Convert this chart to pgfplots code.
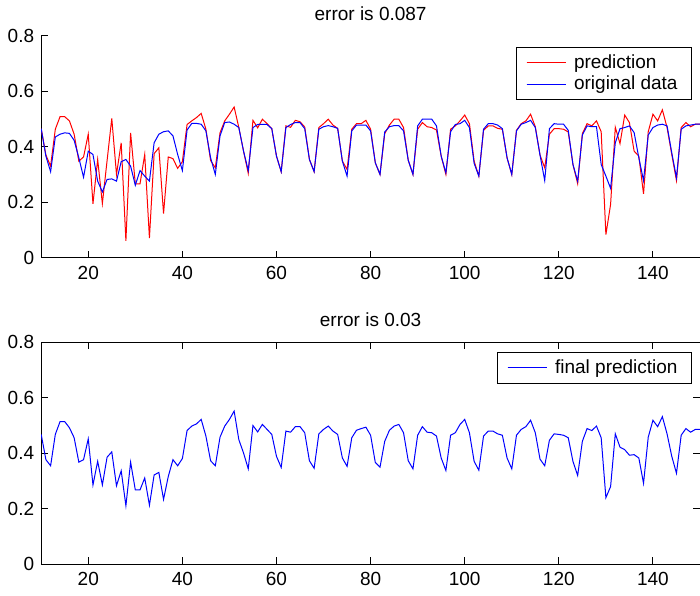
\documentclass[border=0pt]{standalone}
\usepackage{fontspec}
\setmainfont{Liberation Sans}
\usepackage{pgfplots}
\pgfplotsset{compat=1.18}

% values, one row per day
\pgfplotstableread{
x pred orig
10 0.465 0.465
11 0.370 0.366
12 0.330 0.310
13 0.463 0.435
14 0.508 0.445
15 0.508 0.450
16 0.493 0.448
17 0.445 0.423
18 0.348 0.360
19 0.363 0.290
20 0.445 0.384
21 0.194 0.372
22 0.354 0.276
23 0.195 0.237
24 0.350 0.282
25 0.502 0.284
26 0.300 0.276
27 0.414 0.346
28 0.061 0.354
29 0.450 0.330
30 0.266 0.261
31 0.266 0.314
32 0.372 0.294
33 0.071 0.276
34 0.375 0.414
35 0.396 0.445
36 0.159 0.454
37 0.363 0.457
38 0.357 0.439
39 0.322 0.372
40 0.346 0.314
41 0.480 0.460
42 0.493 0.484
43 0.505 0.484
44 0.520 0.481
45 0.463 0.457
46 0.350 0.360
47 0.324 0.300
48 0.450 0.439
49 0.493 0.487
50 0.517 0.489
51 0.543 0.481
52 0.469 0.469
53 0.384 0.384
54 0.304 0.314
55 0.495 0.469
56 0.468 0.480
57 0.499 0.480
58 0.483 0.480
59 0.465 0.465
60 0.366 0.366
61 0.310 0.310
62 0.475 0.469
63 0.470 0.480
64 0.495 0.487
65 0.490 0.487
66 0.471 0.465
67 0.354 0.354
68 0.310 0.310
69 0.469 0.463
70 0.483 0.472
71 0.499 0.476
72 0.478 0.472
73 0.466 0.466
74 0.348 0.348
75 0.318 0.294
76 0.463 0.457
77 0.483 0.478
78 0.483 0.478
79 0.495 0.478
80 0.463 0.457
81 0.342 0.342
82 0.300 0.300
83 0.447 0.453
84 0.478 0.472
85 0.499 0.476
86 0.499 0.476
87 0.469 0.457
88 0.351 0.351
89 0.300 0.300
90 0.463 0.475
91 0.487 0.499
92 0.472 0.499
93 0.469 0.499
94 0.460 0.475
95 0.366 0.366
96 0.300 0.306
97 0.463 0.454
98 0.475 0.480
99 0.493 0.483
100 0.514 0.495
101 0.483 0.469
102 0.348 0.340
103 0.294 0.294
104 0.459 0.463
105 0.475 0.483
106 0.475 0.483
107 0.466 0.478
108 0.463 0.465
109 0.360 0.360
110 0.300 0.300
111 0.459 0.457
112 0.483 0.481
113 0.493 0.487
114 0.517 0.495
115 0.472 0.469
116 0.370 0.370
117 0.324 0.278
118 0.445 0.465
119 0.465 0.483
120 0.465 0.481
121 0.463 0.481
122 0.453 0.459
123 0.336 0.336
124 0.267 0.276
125 0.447 0.442
126 0.483 0.475
127 0.475 0.472
128 0.493 0.472
129 0.454 0.336
130 0.083 0.294
131 0.192 0.250
132 0.470 0.414
133 0.411 0.465
134 0.514 0.469
135 0.487 0.475
136 0.384 0.451
137 0.366 0.360
138 0.230 0.278
139 0.454 0.442
140 0.517 0.469
141 0.493 0.478
142 0.533 0.481
143 0.469 0.475
144 0.372 0.378
145 0.278 0.288
146 0.469 0.463
147 0.487 0.475
148 0.472 0.478
149 0.481 0.481
150 0.481 0.481
}\toptable

\pgfplotstableread{
x final
10 0.467
11 0.376
12 0.354
13 0.467
14 0.513
15 0.513
16 0.491
17 0.455
18 0.367
19 0.376
20 0.451
21 0.285
22 0.370
23 0.285
24 0.385
25 0.404
26 0.282
27 0.336
28 0.210
29 0.367
30 0.267
31 0.267
32 0.310
33 0.212
34 0.321
35 0.330
36 0.233
37 0.315
38 0.376
39 0.354
40 0.380
41 0.481
42 0.497
43 0.505
44 0.521
45 0.461
46 0.372
47 0.354
48 0.457
49 0.497
50 0.521
51 0.551
52 0.448
53 0.400
54 0.343
55 0.499
56 0.476
57 0.503
58 0.485
59 0.467
60 0.388
61 0.348
62 0.479
63 0.475
64 0.495
65 0.495
66 0.473
67 0.372
68 0.345
69 0.469
70 0.485
71 0.497
72 0.479
73 0.467
74 0.382
75 0.352
76 0.455
77 0.482
78 0.488
79 0.493
80 0.464
81 0.366
82 0.349
83 0.442
84 0.482
85 0.497
86 0.503
87 0.473
88 0.372
89 0.343
90 0.464
91 0.495
92 0.475
93 0.473
94 0.461
95 0.382
96 0.337
97 0.464
98 0.473
99 0.503
100 0.521
101 0.473
102 0.370
103 0.338
104 0.461
105 0.479
106 0.479
107 0.469
108 0.464
109 0.382
110 0.343
111 0.464
112 0.485
113 0.495
114 0.518
115 0.473
116 0.378
117 0.354
118 0.446
119 0.469
120 0.467
121 0.464
122 0.455
123 0.370
124 0.319
125 0.442
126 0.488
127 0.481
128 0.497
129 0.455
130 0.239
131 0.279
132 0.469
133 0.421
134 0.412
135 0.392
136 0.394
137 0.382
138 0.291
139 0.457
140 0.518
141 0.495
142 0.531
143 0.469
144 0.388
145 0.327
146 0.464
147 0.488
148 0.475
149 0.485
150 0.485
}\bottable

\pgfplotsset{
  mlab/.style={
    scale only axis, width=329.4pt, height=111pt,
    xmin=10, xmax=150, ymin=0, ymax=0.8,
    xtick={20,40,...,140}, ytick={0,0.2,0.4,0.6,0.8},
    tick align=inside, major tick length=3.5pt,
    tick style={black, line width=0.5pt},
    axis line style={line width=0.5pt},
    /pgf/number format/assume math mode=true,
    ticklabel style={font=\fontsize{9.5}{11}\selectfont},
    xticklabel style={yshift=-0.8pt},
    title style={font=\fontsize{9.5}{11}\selectfont, yshift=-2pt},
    legend cell align=left,
    legend image code/.code={\path (0pt,0pt) -- (19.5pt,0pt);
      \draw[#1] (0pt,0pt) -- (18pt,0pt);},
    legend style={font=\fontsize{9.5}{11}\selectfont, draw=black,
      line width=0.5pt, inner xsep=5pt, inner ysep=1.5pt,
      column sep=2pt, row sep=-1.5pt, anchor=north east},
  }
}

\begin{document}
\begin{tikzpicture}
\begin{axis}[mlab, at={(0,0)}, anchor=south west,
  title={error is 0.03},
  legend style={at={(0.988,0.955)}}]
\addplot[blue, line width=0.5pt] table[x=x, y=final] {\bottable};
\addlegendentry{final prediction}
\end{axis}

\begin{axis}[mlab, at={(0,153.15pt)}, anchor=south west,
  axis x line*=bottom, axis y line*=left, axis line style={-},
  title={error is 0.087},
  legend style={at={(0.988,0.950)}}]
\addplot[red, line width=0.5pt] table[x=x, y=pred] {\toptable};
\addlegendentry{prediction}
\addplot[blue, line width=0.5pt] table[x=x, y=orig] {\toptable};
\addlegendentry{original data}
\end{axis}
\pgfresetboundingbox
\useasboundingbox (-20.6pt,-15.5pt) rectangle (329.4pt,282pt);
\end{tikzpicture}
\end{document}
